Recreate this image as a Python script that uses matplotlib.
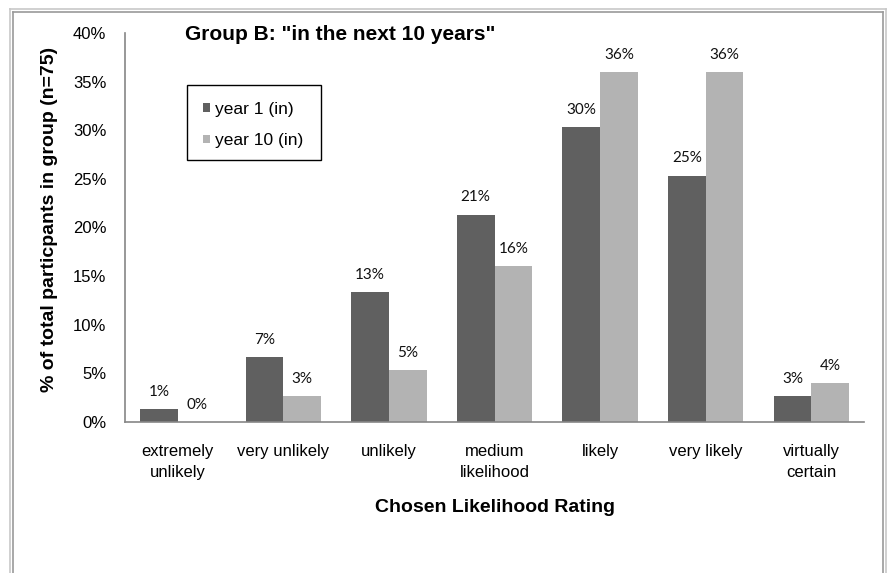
import matplotlib
matplotlib.use("Agg")
import matplotlib.pyplot as plt
import numpy as np
from matplotlib.patches import Patch, Rectangle
from matplotlib.lines import Line2D

# Chart data (percent of participants, n=75)
categories = ["extremely\nunlikely", "very unlikely", "unlikely", "medium\nlikelihood",
              "likely", "very likely", "virtually\ncertain"]
year1 = [1.33, 6.67, 13.33, 21.33, 30.33, 25.33, 2.67]
year10 = [0.0, 2.67, 5.33, 16.0, 36.0, 36.0, 4.0]
series_names = ["year 1 (in)", "year 10 (in)"]
yticks = [0, 5, 10, 15, 20, 25, 30, 35, 40]

plt.rcParams["font.family"] = ["Liberation Sans", "DejaVu Sans"]

W, H = 888, 573
fig = plt.figure(figsize=(W / 100, H / 100), dpi=100)

def fx(px):
    return px / W

def fy(py):
    return 1 - py / H

# outer chart border (double gray line, bottom runs off the image)
for off, col in [(10, "#c8c8c8"), (13, "#9a9a9a")]:
    right = 886 - (off - 10)
    fig.add_artist(Line2D([fx(off), fx(off)], [fy(off - 1), -0.1], color=col, lw=1.2))
    fig.add_artist(Line2D([fx(off), fx(right)], [fy(off - 1), fy(off - 1)], color=col, lw=1.2))
    fig.add_artist(Line2D([fx(right), fx(right)], [fy(off - 1), -0.1], color=col, lw=1.2))

ax = fig.add_axes([fx(125), fy(422), fx(864) - fx(125), fy(33) - fy(422)])

dark = "#606060"
light = "#b3b3b3"
x = np.arange(len(categories))
w = 0.357
b1 = ax.bar(x - w / 2, year1, width=w, color=dark)
b2 = ax.bar(x + w / 2, year10, width=w, color=light)

for bars, vals in [(b1, year1), (b2, year10)]:
    for bar, v in zip(bars, vals):
        ax.annotate(f"{v:.0f}%", (bar.get_x() + bar.get_width() / 2, v),
                    xytext=(0, 12.5), textcoords="offset points", ha="center", va="center",
                    fontsize=11, family=["Lato", "DejaVu Sans"], color="#111111")

ax.set_xlim(-0.5, len(categories) - 0.5)
ax.set_ylim(0, 40)
ax.set_yticks(yticks)
ax.set_yticklabels([f"{t}%" for t in yticks])
ax.set_xticks(x)
ax.set_xticklabels(categories, linespacing=1.45)
ax.tick_params(axis="y", length=0, pad=13.5, labelsize=12)
ax.tick_params(axis="x", length=0, pad=16, labelsize=12)
for s in ["top", "right"]:
    ax.spines[s].set_visible(False)
for s in ["left", "bottom"]:
    ax.spines[s].set_color("#868686")
    ax.spines[s].set_linewidth(1.2)

# legend with its own box
ax.add_patch(Rectangle((fx(187), fy(160)), fx(321) - fx(187), fy(85) - fy(160),
                       transform=fig.transFigure, fill=False, edgecolor="black", lw=1.0,
                       zorder=5))
handles = [Patch(facecolor=dark), Patch(facecolor=light)]
ax.legend(handles, series_names, loc="center left", bbox_to_anchor=(fx(203), fy(125)),
          bbox_transform=fig.transFigure, frameon=False, fontsize=12.5,
          handlelength=0.4, handleheight=0.4, handletextpad=0.3,
          labelspacing=0.95, borderpad=0, borderaxespad=0)

fig.text(fx(185), fy(35), "Group B: \"in the next 10 years\"", ha="left", va="center",
         fontsize=15, fontweight="bold")
fig.text(fx(50), fy(219), "% of total particpants in group (n=75)", rotation=90,
         ha="center", va="center", fontsize=14, fontweight="bold")
fig.text(fx(495), fy(507), "Chosen Likelihood Rating", ha="center", va="center",
         fontsize=14, fontweight="bold")

fig.savefig("out.png", dpi=100)
